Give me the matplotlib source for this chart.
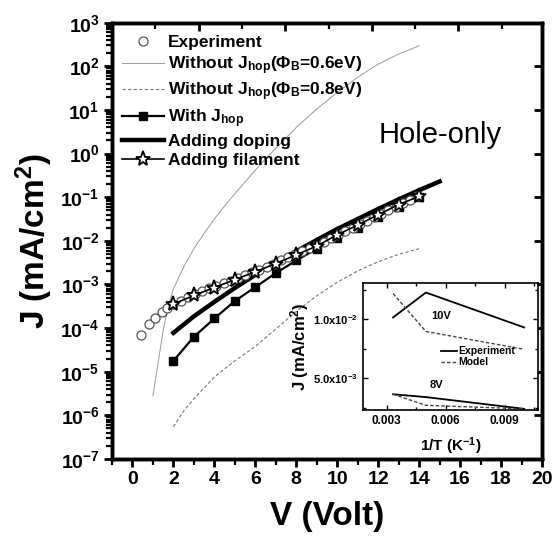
import numpy as np
import matplotlib
matplotlib.use('Agg')
import matplotlib.pyplot as plt
from matplotlib.ticker import FixedLocator, FuncFormatter, MultipleLocator, NullFormatter

plt.rcParams['font.family'] = ['Liberation Sans', 'DejaVu Sans']
plt.rcParams['font.weight'] = 'bold'
plt.rcParams['mathtext.fontset'] = 'custom'
plt.rcParams['mathtext.rm'] = 'Liberation Sans:bold'
plt.rcParams['mathtext.bf'] = 'Liberation Sans:bold'
plt.rcParams['mathtext.it'] = 'Liberation Sans:bold'
plt.rcParams['mathtext.default'] = 'bf'

# experiment (open circles)
V_exp = [0.4, 0.8, 1.1, 1.45, 1.7, 2.0, 2.35, 2.7, 3.05, 3.4, 3.75, 4.1, 4.45, 4.8,
         5.15, 5.5, 5.85, 6.2, 6.55, 6.9, 7.25, 7.6, 7.95, 8.3, 8.65, 9.0, 9.35,
         9.7, 10.05, 10.4, 10.75, 11.1, 11.45, 11.8, 12.15, 12.5, 12.85, 13.2,
         13.55, 13.9]
logJ_exp = [-4.16, -3.9, -3.76, -3.64, -3.54, -3.45, -3.37, -3.29, -3.22, -3.15,
            -3.09, -3.03, -2.97, -2.91, -2.85, -2.78, -2.72, -2.66, -2.59, -2.52,
            -2.45, -2.38, -2.31, -2.24, -2.17, -2.10, -2.02, -1.94, -1.86, -1.78,
            -1.70, -1.62, -1.54, -1.46, -1.38, -1.30, -1.22, -1.14, -1.06, -0.98]

# without J_hop, phi_B = 0.6 eV
V_06 = [1.0, 1.25, 1.5, 1.75, 2.0, 2.5, 3.0, 3.5, 4.0, 4.5, 5.0, 5.5, 6.0, 6.5,
        7.0, 7.5, 8.0, 9.0, 10.0, 11.0, 12.0, 13.0, 14.0]
logJ_06 = [-5.55, -4.8, -4.05, -3.48, -3.1, -2.6, -2.18, -1.83, -1.5, -1.2, -0.92,
           -0.65, -0.38, -0.12, 0.12, 0.36, 0.6, 1.02, 1.4, 1.75, 2.05, 2.28, 2.47]

# without J_hop, phi_B = 0.8 eV
V_08 = [2.0, 2.5, 3.0, 4.0, 5.0, 6.0, 7.0, 8.0, 9.0, 10.0, 11.0, 12.0, 13.0, 14.0]
logJ_08 = [-6.26, -5.9, -5.62, -5.12, -4.75, -4.42, -4.02, -3.62, -3.26, -2.95,
           -2.69, -2.48, -2.31, -2.18]

# with J_hop (squares)
V_hop = [2, 3, 4, 5, 6, 7, 8, 9, 10, 11, 12, 13, 14]
logJ_hop = [-4.75, -4.20, -3.78, -3.38, -3.06, -2.74, -2.45, -2.18, -1.93, -1.70,
            -1.46, -1.22, -1.00]

# adding doping (thick line)
V_dop = [2, 3, 4, 5, 6, 7, 8, 9, 10, 11, 12, 13, 14, 15]
logJ_dop = [-4.11, -3.73, -3.40, -3.08, -2.78, -2.50, -2.24, -1.98, -1.73, -1.50,
            -1.27, -1.05, -0.84, -0.64]

# adding filament (stars)
V_fil = [2, 3, 4, 5, 6, 7, 8, 9, 10, 11, 12, 13, 14]
logJ_fil = [-3.45, -3.25, -3.07, -2.89, -2.71, -2.52, -2.32, -2.12, -1.86, -1.64,
            -1.40, -1.17, -0.98]

# inset: J vs 1/T
invT = [0.00333, 0.005, 0.01]
exp_10V = [0.01017, 0.01229, 0.00932]
mod_10V = [0.0122, 0.00898, 0.00746]
exp_8V = [0.00364, 0.0034, 0.0024]
mod_8V = [0.00364, 0.0027, 0.0024]
inset_yticks = [0.005, 0.01]
inset_ylabels = [r'5.0x10$^{-3}$', r'1.0x10$^{-2}$']

fig = plt.figure(figsize=(5.58, 5.41), dpi=100)
ax = fig.add_axes([0.2007, 0.1516, 0.7706, 0.8065])

p = lambda l: 10 ** np.array(l)
ax.plot(V_exp, p(logJ_exp), 'o', mfc='white', mec='#555555', mew=0.9, ms=6.5,
        label='Experiment', zorder=3)
ax.plot(V_06, p(logJ_06), '-', color='#999999', lw=0.7,
        label=r'Without J$_{\mathbf{hop}}$($\Phi_{\mathrm{B}}$=0.6eV)')
ax.plot(V_08, p(logJ_08), '--', color='#777777', lw=0.8, dashes=(3, 2),
        label=r'Without J$_{\mathbf{hop}}$($\Phi_{\mathrm{B}}$=0.8eV)')
ax.plot(V_hop, p(logJ_hop), 's-', color='black', lw=1.6, ms=5.5,
        label=r'With J$_{\mathbf{hop}}$')
ax.plot(V_dop, p(logJ_dop), '-', color='black', lw=3.2, label='Adding doping')
ax.plot(V_fil, p(logJ_fil), '*-', color='black', lw=1.2, ms=11, mfc='white',
        mec='black', mew=1.3, label='Adding filament', zorder=4)

ax.set_yscale('log')
ax.set_xlim(-1, 20)
ax.set_ylim(1e-7, 1e3)
ax.xaxis.set_major_locator(MultipleLocator(2))
ax.xaxis.set_minor_locator(MultipleLocator(1))
ax.yaxis.set_major_locator(FixedLocator([10.0 ** k for k in range(-7, 4)]))
ax.yaxis.set_minor_locator(FixedLocator([m * 10.0 ** k for k in range(-7, 3)
                                         for m in range(2, 10)]))
ax.yaxis.set_major_formatter(FuncFormatter(lambda v, pos: r'$10^{%d}$' % round(np.log10(v))))
ax.yaxis.set_minor_formatter(NullFormatter())
ax.tick_params(axis='both', which='major', direction='out', length=6, width=2,
               labelsize=14, pad=3)
ax.tick_params(axis='both', which='minor', direction='out', length=4, width=1.6)
for lab in ax.get_xticklabels():
    lab.set_fontweight('bold')
for s in ax.spines.values():
    s.set_linewidth(2.4)

ax.set_xlabel('V (Volt)', fontsize=24, fontweight='bold', labelpad=9)
ax.set_ylabel(r'J (mA/cm$^{2}$)', fontsize=24, fontweight='bold', labelpad=4)

# top / right inward ticks
axt = ax.twiny()
axt.set_xlim(0, 9.93)
axt.xaxis.set_major_locator(MultipleLocator(2))
axt.xaxis.set_minor_locator(MultipleLocator(1))
axt.tick_params(axis='x', which='major', direction='in', length=6, width=2, labeltop=False)
axt.tick_params(axis='x', which='minor', direction='in', length=4, width=1.6)
axr = ax.twinx()
axr.set_yscale('log')
axr.set_ylim(1e-7, 1e3)
axr.yaxis.set_major_locator(FixedLocator([10.0 ** k for k in range(-7, 4)]))
axr.yaxis.set_minor_locator(FixedLocator([]))
axr.tick_params(axis='y', which='major', direction='in', length=6, width=2, labelright=False)
for a in (axt, axr):
    for s in a.spines.values():
        s.set_linewidth(2.4)

leg = ax.legend(loc='upper left', bbox_to_anchor=(-0.005, 1.0), frameon=False,
                fontsize=12.5, handlelength=2.4, handletextpad=0.25,
                labelspacing=0.23, borderaxespad=0.3)
for t in leg.get_texts():
    t.set_fontweight('bold')

ax.text(0.62, 0.725, 'Hole-only', transform=ax.transAxes, fontsize=21,
        fontweight='normal', ha='left', va='baseline')

# inset
ins = fig.add_axes([0.6505, 0.2421, 0.3136, 0.2348])
ins.plot(invT, exp_10V, '-', color='black', lw=1.3, label='Experiment')
ins.plot(invT, mod_10V, '--', color='#444444', lw=1.0, dashes=(2.5, 1.5), label='Model')
ins.plot(invT, exp_8V, '-', color='black', lw=1.3)
ins.plot(invT, mod_8V, '--', color='#444444', lw=1.0, dashes=(2.5, 1.5))
ins.set_xlim(0.0018, 0.0107)
ins.set_ylim(0.0023, 0.0131)
ins.xaxis.set_major_locator(MultipleLocator(0.003))
ins.xaxis.set_minor_locator(MultipleLocator(0.0015))
ins.set_yticks(inset_yticks)
ins.set_yticklabels(inset_ylabels)
ins.yaxis.set_minor_locator(MultipleLocator(0.0025))
ins.xaxis.set_major_formatter(FuncFormatter(lambda v, pos: '%.3f' % v))
ins.tick_params(which='both', direction='in', top=True, right=True, width=1)
ins.tick_params(axis='x', labelsize=8.5)
ins.tick_params(axis='y', labelsize=8)
ins.tick_params(which='major', length=3.5)
ins.tick_params(which='minor', length=2)
for lab in ins.get_xticklabels() + ins.get_yticklabels():
    lab.set_fontweight('bold')
for s in ins.spines.values():
    s.set_linewidth(1.2)
ins.set_xlabel(r'1/T (K$^{-1}$)', fontsize=11, fontweight='bold', labelpad=6)
ins.set_ylabel(r'J (mA/cm$^{2}$)', fontsize=12, fontweight='bold', labelpad=2)
ins.text(0.39, 0.72, '10V', transform=ins.transAxes, fontsize=8, fontweight='bold')
ins.text(0.38, 0.17, '8V', transform=ins.transAxes, fontsize=8, fontweight='bold')
il = ins.legend(loc='center left', bbox_to_anchor=(0.42, 0.42), frameon=False,
                fontsize=7.5, handlelength=1.6, handletextpad=0.1, labelspacing=0.1,
                borderaxespad=0)
for t in il.get_texts():
    t.set_fontweight('bold')

fig.savefig('out.png', dpi=100)
